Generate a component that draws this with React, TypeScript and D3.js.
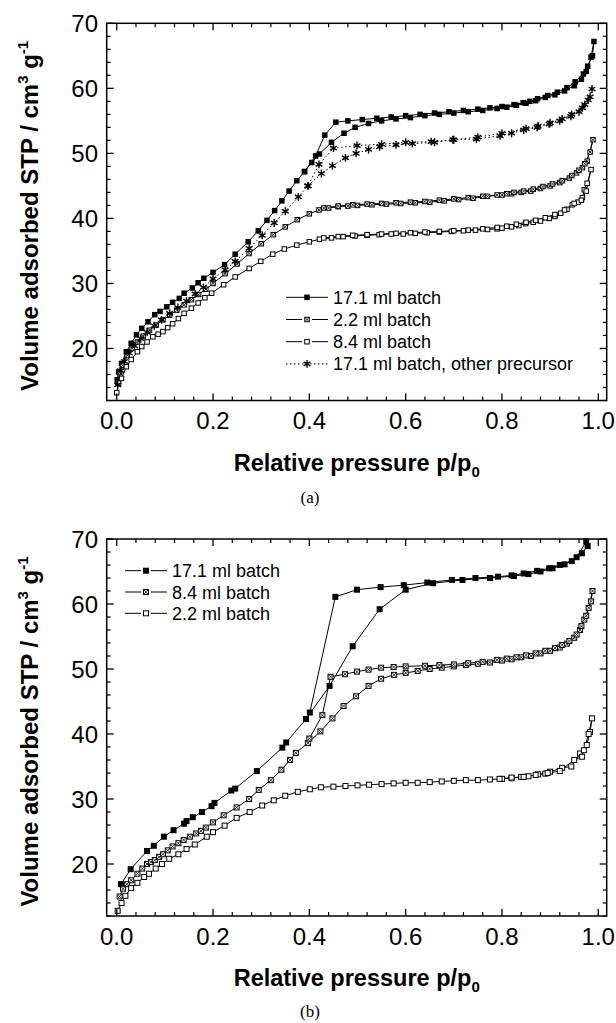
import React from "react";
import * as d3 from "d3";

type Pt = [number, number];

// ---------- tick values ----------
const xMajorTicks = [0, 0.2, 0.4, 0.6, 0.8, 1.0];
const yMajorTicks = [20, 30, 40, 50, 60, 70];

// ---------- panel (a) ----------
const topLabels = ["17.1 ml batch", "2.2 ml batch", "8.4 ml batch", "17.1 ml batch, other precursor"];

const topA_ads: Pt[] = [[0.001,15.2],[0.004,16.4],[0.010,17.7],[0.020,19.5],[0.030,20.8],[0.041,22.1],[0.052,23.1],[0.065,24.1],[0.079,25.2],[0.090,25.7],[0.104,26.4],[0.116,27.1],[0.130,27.7],[0.140,28.5],[0.157,29.3],[0.169,30.1],[0.181,30.8],[0.200,31.7],[0.224,32.9],[0.246,34.5],[0.273,36.4],[0.294,38.1],[0.312,39.7],[0.328,41.2],[0.343,42.7],[0.358,44.2],[0.374,45.8],[0.39,47.2],[0.405,48.6],[0.421,49.9],[0.446,51.7],[0.472,53.1],[0.495,54.0],[0.523,54.6],[0.55,55.0],[0.58,55.3],[0.61,55.5],[0.64,55.8],[0.67,56.0],[0.70,56.2],[0.73,56.4],[0.76,56.6],[0.79,56.9],[0.81,57.1],[0.83,57.4],[0.85,57.7],[0.87,58.1],[0.89,58.6],[0.91,59.0],[0.93,59.6],[0.95,60.4],[0.965,61.4],[0.975,62.6],[0.985,64.8],[0.991,67.2]];
const topA_des: Pt[] = [[0.988,65.0],[0.978,63.4],[0.969,62.2],[0.952,61.0],[0.935,60.1],[0.915,59.4],[0.895,58.9],[0.874,58.4],[0.858,58.0],[0.844,57.8],[0.825,57.5],[0.80,57.2],[0.775,57.0],[0.75,56.8],[0.72,56.6],[0.69,56.4],[0.66,56.2],[0.63,56.0],[0.60,55.8],[0.57,55.6],[0.54,55.4],[0.51,55.2],[0.48,55.0],[0.455,54.8],[0.432,52.8],[0.413,49.6],[0.39,47.2]];

const topB_ads: Pt[] = [[0.002,14.8],[0.006,16.3],[0.012,17.4],[0.022,18.9],[0.032,20.0],[0.043,21.0],[0.055,21.9],[0.068,22.8],[0.082,23.6],[0.096,24.4],[0.11,25.1],[0.125,25.9],[0.14,26.7],[0.155,27.5],[0.17,28.3],[0.185,29.1],[0.20,30.0],[0.225,31.5],[0.25,33.0],[0.275,34.6],[0.30,36.1],[0.325,37.5],[0.35,38.7],[0.375,39.8],[0.40,40.7],[0.42,41.3],[0.44,41.6],[0.46,41.8],[0.48,41.9],[0.50,42.0],[0.53,42.1],[0.56,42.2],[0.59,42.3],[0.62,42.4],[0.65,42.5],[0.68,42.7],[0.71,42.9],[0.74,43.1],[0.77,43.4],[0.80,43.6],[0.82,43.8],[0.84,44.0],[0.86,44.2],[0.88,44.6],[0.90,45.0],[0.92,45.5],[0.94,46.2],[0.955,47.0],[0.967,47.8],[0.977,48.8],[0.989,52.1]];
const topB_des: Pt[] = [[0.983,50.2],[0.972,48.4],[0.96,47.4],[0.945,46.6],[0.925,45.8],[0.905,45.3],[0.885,44.9],[0.865,44.5],[0.845,44.2],[0.825,44.0],[0.81,43.8],[0.79,43.6],[0.76,43.4],[0.73,43.2],[0.70,43.0],[0.67,42.8],[0.64,42.6],[0.61,42.5],[0.58,42.4],[0.55,42.3],[0.52,42.2],[0.49,42.1],[0.46,41.9],[0.43,41.6]];

const topC_ads: Pt[] = [[0.0,13.2],[0.004,14.7],[0.010,15.4],[0.020,17.2],[0.030,18.3],[0.043,19.5],[0.052,20.3],[0.063,21.0],[0.075,21.8],[0.086,22.2],[0.096,22.6],[0.106,23.2],[0.116,23.8],[0.128,24.6],[0.140,25.4],[0.155,26.2],[0.169,27.0],[0.183,27.8],[0.197,28.5],[0.222,29.8],[0.246,31.0],[0.275,32.3],[0.299,33.4],[0.324,34.5],[0.348,35.3],[0.374,35.9],[0.40,36.4],[0.421,36.8],[0.446,37.0],[0.47,37.2],[0.495,37.3],[0.52,37.4],[0.545,37.5],[0.57,37.6],[0.595,37.6],[0.62,37.7],[0.645,37.8],[0.67,37.9],[0.695,38.0],[0.72,38.1],[0.745,38.2],[0.77,38.3],[0.79,38.4],[0.80,38.5],[0.82,38.7],[0.835,38.9],[0.849,39.2],[0.865,39.4],[0.88,39.6],[0.898,40.0],[0.91,40.3],[0.922,40.8],[0.935,41.4],[0.946,42.1],[0.958,42.5],[0.967,43.2],[0.971,44.4],[0.977,45.4],[0.985,47.5]];
const topC_des: Pt[] = [[0.975,44.2],[0.965,42.8],[0.95,42.3],[0.93,41.3],[0.91,40.6],[0.89,40.1],[0.87,39.7],[0.85,39.4],[0.83,39.1],[0.81,38.8],[0.79,38.6],[0.76,38.4],[0.73,38.2],[0.70,38.1],[0.67,38.0],[0.64,37.9],[0.61,37.8],[0.58,37.7],[0.55,37.6],[0.52,37.5],[0.49,37.4],[0.46,37.2],[0.43,37.0]];

const topD_ads: Pt[] = [[0.002,14.4],[0.008,16.6],[0.016,18.0],[0.026,19.3],[0.037,20.4],[0.05,21.5],[0.063,22.5],[0.078,23.5],[0.093,24.4],[0.11,25.4],[0.127,26.3],[0.145,27.3],[0.163,28.4],[0.18,29.4],[0.20,30.7],[0.225,32.1],[0.246,33.4],[0.275,35.4],[0.302,37.4],[0.327,39.3],[0.35,41.1],[0.377,43.3],[0.397,45.0],[0.425,46.9],[0.448,48.1],[0.475,49.3],[0.497,50.0],[0.523,50.6],[0.546,51.0],[0.58,51.3],[0.614,51.5],[0.66,51.7],[0.698,52.1],[0.747,52.2],[0.796,52.7],[0.82,53.1],[0.845,53.6],[0.873,54.0],[0.898,54.5],[0.92,55.0],[0.943,55.7],[0.967,57.0],[0.979,58.2],[0.987,59.9]];
const topD_des: Pt[] = [[0.983,58.7],[0.972,57.5],[0.96,56.4],[0.945,56.0],[0.925,55.3],[0.90,54.7],[0.875,54.2],[0.85,53.8],[0.80,53.1],[0.75,52.5],[0.70,52.1],[0.653,51.8],[0.60,51.7],[0.55,51.4],[0.499,51.2],[0.45,50.8],[0.42,48.3],[0.397,45.0]];

// ---------- panel (b) ----------
const bottomLabels = ["17.1 ml batch", "8.4 ml batch", "2.2 ml batch"];

const botA_ads: Pt[] = [[0.009,16.9],[0.029,19.2],[0.063,22.0],[0.077,22.8],[0.098,24.2],[0.118,25.2],[0.14,26.2],[0.145,26.6],[0.158,27.2],[0.177,28.0],[0.197,28.9],[0.203,29.4],[0.238,31.3],[0.246,31.6],[0.291,34.3],[0.344,37.9],[0.352,38.7],[0.393,42.3],[0.442,47.4],[0.49,53.5],[0.546,59.2],[0.60,62.2],[0.657,63.2],[0.718,63.7],[0.775,64.0],[0.825,64.3],[0.855,64.6],[0.88,65.0],[0.905,65.5],[0.93,66.1],[0.955,67.2],[0.975,69.6]];
const botA_des: Pt[] = [[0.978,68.9],[0.966,67.8],[0.945,66.6],[0.92,66.0],[0.898,65.5],[0.873,65.1],[0.845,64.7],[0.82,64.4],[0.792,64.2],[0.745,64.0],[0.696,63.7],[0.645,63.3],[0.596,62.9],[0.548,62.6],[0.499,62.2],[0.454,61.1],[0.401,43.3]];

const botB_ads: Pt[] = [[0.006,15.0],[0.013,16.2],[0.021,16.9],[0.03,17.5],[0.043,18.5],[0.053,19.3],[0.063,20.0],[0.071,20.3],[0.079,20.6],[0.088,21.1],[0.096,21.5],[0.106,22.1],[0.116,22.7],[0.128,23.2],[0.139,23.7],[0.152,24.2],[0.165,24.7],[0.175,25.1],[0.185,25.6],[0.20,26.4],[0.222,27.5],[0.249,28.7],[0.275,30.0],[0.295,31.4],[0.32,32.9],[0.342,34.5],[0.36,36.0],[0.372,37.1],[0.397,38.6],[0.423,40.4],[0.448,42.4],[0.471,44.3],[0.497,45.8],[0.523,47.4],[0.549,48.5],[0.576,49.1],[0.60,49.4],[0.625,49.7],[0.65,50.0],[0.675,50.2],[0.70,50.4],[0.725,50.6],[0.75,50.8],[0.775,51.0],[0.80,51.3],[0.82,51.5],[0.84,51.8],[0.86,52.0],[0.88,52.4],[0.90,52.8],[0.92,53.3],[0.935,53.9],[0.95,54.8],[0.962,56.0],[0.971,57.6],[0.98,59.4],[0.988,62.0]];
const botB_des: Pt[] = [[0.985,60.4],[0.975,58.2],[0.965,56.6],[0.955,55.3],[0.94,54.3],[0.925,53.7],[0.91,53.2],[0.89,52.8],[0.87,52.4],[0.85,52.1],[0.83,51.8],[0.81,51.6],[0.79,51.4],[0.76,51.1],[0.73,50.9],[0.70,50.7],[0.67,50.6],[0.64,50.5],[0.60,50.4],[0.575,50.3],[0.549,50.2],[0.523,49.9],[0.499,49.6],[0.474,49.2],[0.444,48.8],[0.427,42.9],[0.40,39.3]];

const botC_ads: Pt[] = [[0.002,12.8],[0.01,14.0],[0.018,15.1],[0.03,16.3],[0.043,17.1],[0.057,18.0],[0.067,18.5],[0.081,19.3],[0.094,20.0],[0.109,20.8],[0.128,21.5],[0.145,22.3],[0.162,23.0],[0.187,24.2],[0.20,24.9],[0.224,25.9],[0.249,27.1],[0.276,28.0],[0.302,29.0],[0.326,29.8],[0.35,30.5],[0.376,31.1],[0.401,31.5],[0.424,31.8],[0.45,31.9],[0.475,32.0],[0.50,32.1],[0.524,32.2],[0.55,32.3],[0.575,32.4],[0.60,32.5],[0.625,32.5],[0.65,32.6],[0.675,32.7],[0.70,32.8],[0.725,32.9],[0.75,32.9],[0.775,33.0],[0.80,33.1],[0.82,33.2],[0.84,33.4],[0.855,33.5],[0.875,33.8],[0.89,33.9],[0.90,34.2],[0.925,34.8],[0.944,35.0],[0.962,37.0],[0.976,38.3],[0.983,40.3],[0.987,42.4]];
const botC_des: Pt[] = [[0.98,40.0],[0.97,37.5],[0.966,36.5],[0.95,36.0],[0.92,34.3],[0.895,34.0],[0.87,33.7],[0.845,33.4],[0.82,33.3],[0.795,33.1]];

// ---------- layout ----------
const W = 616, H = 1023;
const FONT = "'Liberation Sans', Arial, Helvetica, sans-serif";
const SERIF = "'Liberation Serif', 'Times New Roman', serif";

type Kind = "filled" | "open" | "cross" | "star";
interface Series { ads: Pt[]; des: Pt[]; kind: Kind; dash?: string; label: string; }

function Marker({ kind, x, y, s }: { kind: Kind; x: number; y: number; s: number }) {
  const h = s / 2;
  if (kind === "filled") return <rect x={x - h} y={y - h} width={s} height={s} fill="#000" />;
  if (kind === "open") return <rect x={x - h + 0.5} y={y - h + 0.5} width={s - 1} height={s - 1} fill="#fff" stroke="#000" strokeWidth={1} />;
  if (kind === "cross")
    return (
      <g>
        <rect x={x - h + 0.5} y={y - h + 0.5} width={s - 1} height={s - 1} fill="#fff" stroke="#000" strokeWidth={1} />
        <path d={`M${x - h + 1},${y - h + 1}L${x + h - 1},${y + h - 1}M${x - h + 1},${y + h - 1}L${x + h - 1},${y - h + 1}`} stroke="#000" strokeWidth={0.8} />
      </g>
    );
  const r = h + 1.2;
  const d: string[] = [];
  [90, 30, 150].forEach((a) => {
    const rad = (a * Math.PI) / 180;
    d.push(`M${x - r * Math.cos(rad)},${y - r * Math.sin(rad)}L${x + r * Math.cos(rad)},${y + r * Math.sin(rad)}`);
  });
  return <path d={d.join("")} stroke="#000" strokeWidth={1.4} fill="none" />;
}

function Panel({ series, top, bottom, legendX, legendY, legendStep, markerSize, caption, captionY, gapAll }: {
  series: Series[]; top: number; bottom: number; legendX: number; legendY: number; legendStep: number; markerSize: number; caption: string; captionY: number; gapAll: boolean;
}) {
  const x = d3.scaleLinear().domain([-0.0208, 1.0175]).range([106.7, 606.7]);
  const y = d3.scaleLinear().domain([12, 70]).range([bottom, top]);
  const [x0, x1] = x.range();
  const line = d3.line<Pt>().x((d) => x(d[0])).y((d) => y(d[1]));
  const xMinor = d3.range(0, 1.0001, 0.04).filter((v) => !xMajorTicks.some((m) => Math.abs(m - v) < 1e-6));
  const yMinor = d3.range(12, 70.001, 2).filter((v) => !yMajorTicks.some((m) => Math.abs(m - v) < 1e-6));
  const MJ = 7, MN = 4;
  const cx = (x0 + x1) / 2;
  const cy = (top + bottom) / 2;
  return (
    <g>
      {series.map((s, i) => (
        <g key={i}>
          <path d={line([...s.ads, ...s.des]) || ""} fill="none" stroke="#000" strokeWidth={1} strokeDasharray={s.dash} />
          {[...s.ads, ...s.des].map((p, j) => (
            <Marker key={j} kind={s.kind} x={x(p[0])} y={y(p[1])} s={markerSize} />
          ))}
        </g>
      ))}
      <rect x={x0} y={top} width={x1 - x0} height={bottom - top} fill="none" stroke="#000" strokeWidth={1.5} />
      {xMajorTicks.map((v) => (
        <g key={"xm" + v}>
          <line x1={x(v)} x2={x(v)} y1={bottom} y2={bottom - MJ} stroke="#000" strokeWidth={1.3} />
          <line x1={x(v)} x2={x(v)} y1={top} y2={top + MJ} stroke="#000" strokeWidth={1.3} />
          <text x={x(v)} y={bottom + 28.5} textAnchor="middle" fontFamily={FONT} fontSize={24}>{v.toFixed(1)}</text>
        </g>
      ))}
      {xMinor.map((v) => (
        <g key={"xn" + v}>
          <line x1={x(v)} x2={x(v)} y1={bottom} y2={bottom - MN} stroke="#000" strokeWidth={1.2} />
          <line x1={x(v)} x2={x(v)} y1={top} y2={top + MN} stroke="#000" strokeWidth={1.2} />
        </g>
      ))}
      {yMajorTicks.map((v) => (
        <g key={"ym" + v}>
          <line x1={x0} x2={x0 + MJ} y1={y(v)} y2={y(v)} stroke="#000" strokeWidth={1.3} />
          <line x1={x1} x2={x1 - MJ} y1={y(v)} y2={y(v)} stroke="#000" strokeWidth={1.3} />
          <text x={98} y={y(v) + 8.6} textAnchor="end" fontFamily={FONT} fontSize={24}>{v}</text>
        </g>
      ))}
      {yMinor.map((v) => (
        <g key={"yn" + v}>
          <line x1={x0} x2={x0 + MN} y1={y(v)} y2={y(v)} stroke="#000" strokeWidth={1.2} />
          <line x1={x1} x2={x1 - MN} y1={y(v)} y2={y(v)} stroke="#000" strokeWidth={1.2} />
        </g>
      ))}
      <text x={cx} y={bottom + 70} textAnchor="middle" fontFamily={FONT} fontWeight="bold" fontSize={23.5}>
        Relative pressure p/p<tspan dy={6} fontSize={15}>0</tspan>
      </text>
      <text transform={`translate(37.5,${cy + 4}) rotate(-90)`} textAnchor="middle" fontFamily={FONT} fontWeight="bold" fontSize={24}>
        Volume adsorbed STP / cm<tspan dy={-10} fontSize={15}>3</tspan><tspan dy={10}> g</tspan><tspan dy={-10} fontSize={15}>-1</tspan>
      </text>
      {series.map((s, i) => {
        const ly = legendY + i * legendStep;
        const mx = legendX + 21;
        const gap = !gapAll && (s.kind === "filled" || s.kind === "star") ? 0 : 5;
        return (
          <g key={"lg" + i}>
            {gap === 0 ? (
              <line x1={legendX} x2={legendX + 42} y1={ly} y2={ly} stroke="#000" strokeWidth={1} strokeDasharray={s.dash} />
            ) : (
              <g>
                <line x1={legendX} x2={mx - gap} y1={ly} y2={ly} stroke="#000" strokeWidth={1} />
                <line x1={mx + gap} x2={legendX + 42} y1={ly} y2={ly} stroke="#000" strokeWidth={1} />
              </g>
            )}
            <Marker kind={s.kind} x={mx} y={ly} s={markerSize} />
            <text x={legendX + 47} y={ly + 6.5} fontFamily={FONT} fontSize={18}>{s.label}</text>
          </g>
        );
      })}
      <text x={310} y={captionY} textAnchor="middle" fontFamily={SERIF} fontSize={17}>{caption}</text>
    </g>
  );
}

export default function App() {
  const topSeries: Series[] = [
    { ads: topA_ads, des: topA_des, kind: "filled", label: topLabels[0] },
    { ads: topB_ads, des: topB_des, kind: "cross", label: topLabels[1] },
    { ads: topC_ads, des: topC_des, kind: "open", label: topLabels[2] },
    { ads: topD_ads, des: topD_des, kind: "star", dash: "1.5,2.5", label: topLabels[3] },
  ];
  const bottomSeries: Series[] = [
    { ads: botA_ads, des: botA_des, kind: "filled", label: bottomLabels[0] },
    { ads: botB_ads, des: botB_des, kind: "cross", label: bottomLabels[1] },
    { ads: botC_ads, des: botC_des, kind: "open", label: bottomLabels[2] },
  ];
  return (
    <svg width={W} height={H} viewBox={`0 0 ${W} ${H}`} style={{ position: "absolute", left: 0, top: 0, background: "#fff" }}>
      <rect width={W} height={H} fill="#fff" />
      <Panel series={topSeries} top={23.3} bottom={400.5} legendX={286} legendY={297.3} legendStep={22.2} markerSize={5.5} caption="(a)" captionY={503} gapAll={false} />
      <Panel series={bottomSeries} top={539} bottom={916} legendX={125} legendY={570.7} legendStep={21.3} markerSize={6} caption="(b)" captionY={1017} gapAll={true} />
    </svg>
  );
}
